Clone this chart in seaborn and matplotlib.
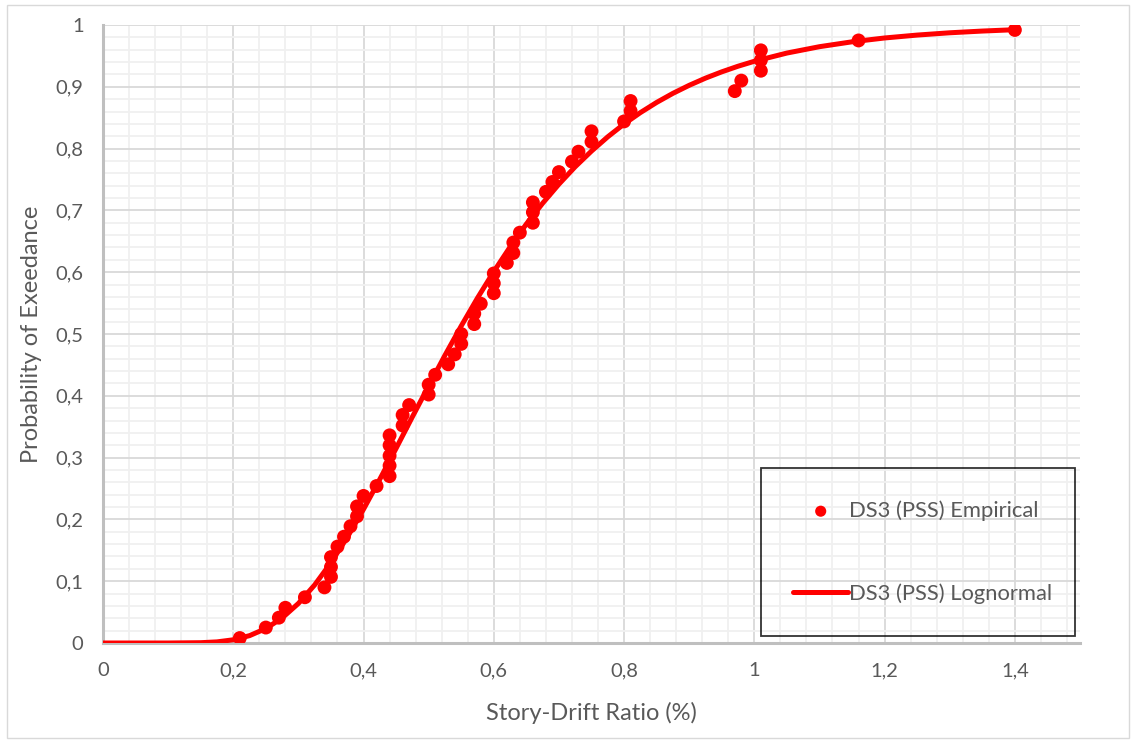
import numpy as np
import seaborn as sns
import matplotlib.pyplot as plt
from matplotlib.patches import Rectangle
from matplotlib.ticker import MultipleLocator, FuncFormatter

# empirical points (story-drift ratio %, probability of exceedance)
drift_emp = [0.21, 0.25, 0.27, 0.28, 0.31, 0.34, 0.35, 0.35, 0.35, 0.36,
             0.37, 0.38, 0.39, 0.39, 0.40, 0.42, 0.44, 0.44, 0.44, 0.44,
             0.44, 0.46, 0.46, 0.47, 0.50, 0.50, 0.51, 0.53, 0.54, 0.55,
             0.55, 0.57, 0.57, 0.58, 0.60, 0.60, 0.60, 0.62, 0.63, 0.63,
             0.64, 0.66, 0.66, 0.66, 0.68, 0.69, 0.70, 0.72, 0.73, 0.75,
             0.75, 0.80, 0.81, 0.81, 0.97, 0.98, 1.01, 1.01, 1.01, 1.16,
             1.40]
prob_emp = [0.008, 0.025, 0.041, 0.057, 0.074, 0.090, 0.107, 0.123, 0.139, 0.156,
            0.172, 0.189, 0.205, 0.221, 0.238, 0.254, 0.270, 0.287, 0.303, 0.320,
            0.336, 0.352, 0.369, 0.385, 0.402, 0.418, 0.434, 0.451, 0.467, 0.484,
            0.500, 0.516, 0.533, 0.549, 0.566, 0.582, 0.598, 0.615, 0.631, 0.648,
            0.664, 0.680, 0.697, 0.713, 0.730, 0.746, 0.762, 0.779, 0.795, 0.811,
            0.828, 0.844, 0.861, 0.877, 0.893, 0.910, 0.926, 0.943, 0.959, 0.975,
            0.992]

# fitted lognormal curve
drift_fit = [0.0, 0.05, 0.10, 0.15, 0.175, 0.20, 0.225, 0.25, 0.275, 0.30,
             0.325, 0.35, 0.375, 0.40, 0.425, 0.45, 0.475, 0.50, 0.525, 0.55,
             0.575, 0.60, 0.625, 0.65, 0.675, 0.70, 0.725, 0.75, 0.775, 0.80,
             0.825, 0.85, 0.875, 0.90, 0.925, 0.95, 0.975, 1.00, 1.05, 1.10,
             1.15, 1.20, 1.25, 1.30, 1.35, 1.40]
prob_fit = [0.0, 0.0, 0.0, 0.0005, 0.0018, 0.0052, 0.0119, 0.0234, 0.0405, 0.064,
            0.094, 0.130, 0.171, 0.2165, 0.265, 0.315, 0.366, 0.416, 0.4655, 0.513,
            0.5583, 0.601, 0.6408, 0.678, 0.7116, 0.7425, 0.7707, 0.796, 0.8191, 0.8398,
            0.8582, 0.8747, 0.8894, 0.9024, 0.914, 0.9242, 0.9333, 0.9413, 0.9546, 0.9649,
            0.9728, 0.979, 0.9837, 0.9874, 0.9902, 0.9924]

sns.set_style("white")
plt.rcParams['font.family'] = ['Lato', 'DejaVu Sans']

fig = plt.figure(figsize=(11.34, 7.42), dpi=100)
ax = fig.add_axes([103 / 1134, 99 / 742, 977 / 1134, 618 / 742])
fig.patches.append(Rectangle((7 / 1134, 4 / 742), 1122 / 1134, 733 / 742,
                             transform=fig.transFigure, fill=False,
                             edgecolor='#d9d9d9', linewidth=1))

red = '#ff0000'
sns.lineplot(x=drift_fit, y=prob_fit, ax=ax, color=red, linewidth=3.6,
             sort=False, label='DS3 (PSS) Lognormal', zorder=3)
sns.scatterplot(x=drift_emp, y=prob_emp, ax=ax, color=red, s=100,
                edgecolor='none', label='DS3 (PSS) Empirical', zorder=4)

ax.set_xlim(0, 1.5)
ax.set_ylim(0, 1)
ax.xaxis.set_major_locator(MultipleLocator(0.2))
ax.xaxis.set_minor_locator(MultipleLocator(0.04))
ax.yaxis.set_major_locator(MultipleLocator(0.1))
ax.yaxis.set_minor_locator(MultipleLocator(0.02))
comma = FuncFormatter(lambda v, p: f"{v:.1f}".rstrip('0').rstrip('.').replace('.', ',') if abs(v) > 1e-9 else '0')
ax.xaxis.set_major_formatter(comma)
ax.yaxis.set_major_formatter(comma)

ax.grid(which='major', color='#d9d9d9', linewidth=1.3)
ax.grid(which='minor', color='#f0f0f0', linewidth=1.3)
ax.set_axisbelow(True)

for s in ['top', 'right']:
    ax.spines[s].set_visible(False)
for s in ['left', 'bottom']:
    ax.spines[s].set_color('#bfbfbf')
    ax.spines[s].set_linewidth(2.2)
ax.tick_params(which='major', direction='out', length=6, width=1.3,
               color='#bfbfbf', labelsize=14.5, labelcolor='#595959', pad=8)
ax.tick_params(which='minor', length=0)

ax.set_xlabel('Story-Drift Ratio (%)', fontsize=17, color='#595959', labelpad=16)
ax.set_ylabel('Probability of Exeedance', fontsize=17, color='#595959', labelpad=10)

handles, labels = ax.get_legend_handles_labels()
order = [labels.index('DS3 (PSS) Empirical'), labels.index('DS3 (PSS) Lognormal')]
leg = ax.legend([handles[i] for i in order], [labels[i] for i in order],
                loc='upper left', bbox_to_anchor=(0.6735, 0.0, 0.3215, 0.283),
                mode='expand', fontsize=15.8, labelcolor='#595959',
                frameon=True, fancybox=False, borderpad=1.47, labelspacing=2.84,
                handlelength=2.5, handletextpad=0.05, markerscale=0.8,
                borderaxespad=0)
leg.get_frame().set_edgecolor('black')
leg.get_frame().set_linewidth(1.3)
leg.get_frame().set_facecolor('none')

fig.savefig('out.png', dpi=100)
